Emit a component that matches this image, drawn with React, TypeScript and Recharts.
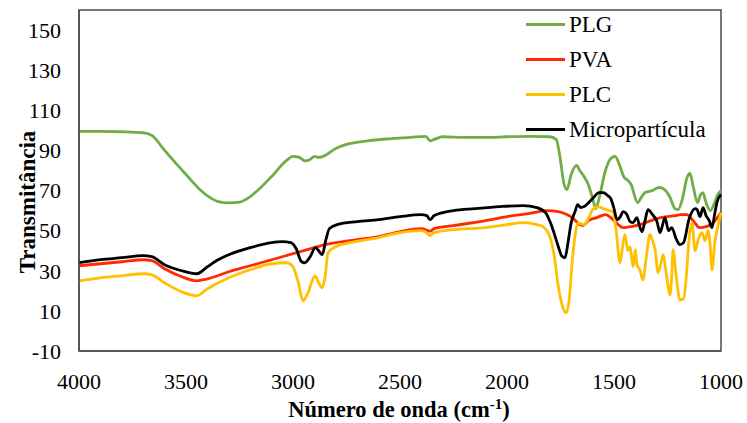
import { LineChart, Line, XAxis, YAxis, ReferenceArea } from "recharts"

// wavenumbers (cm-1) and transmittance for each spectrum
const plgWave = [4000, 3900, 3800, 3700, 3660, 3600, 3500, 3420, 3350, 3300, 3250, 3200, 3100, 3030, 3000, 2970, 2945, 2920, 2900, 2880, 2860, 2800, 2750, 2650, 2550, 2450, 2380, 2360, 2340, 2300, 2200, 2100, 2000, 1900, 1800, 1770, 1750, 1735, 1720, 1700, 1675, 1660, 1640, 1620, 1600, 1585, 1570, 1540, 1515, 1495, 1475, 1455, 1435, 1420, 1390, 1370, 1355, 1320, 1290, 1271, 1240, 1215, 1200, 1180, 1160, 1145, 1130, 1110, 1095, 1085, 1070, 1050, 1030, 1015, 1000]
const plgT = [99.5, 99.5, 99.3, 98.8, 97.5, 90, 78, 69, 64.5, 63.8, 64.2, 67, 77, 85, 87, 86.5, 84.8, 85.5, 87, 86.5, 87, 91, 93, 94.8, 95.8, 96.5, 97, 94.8, 95.5, 96.8, 96.5, 96.5, 96.8, 97, 96.8, 95.5, 85, 74, 70.5, 78, 82.5, 80, 77, 73, 66, 61, 66, 80, 86, 87, 83, 77, 75, 73, 64, 67, 69, 70, 71.5, 71, 67, 61, 60.5, 66, 76, 78.5, 72, 64, 68, 69, 64, 60, 64, 68, 70]

const pvaWave = [4000, 3900, 3800, 3700, 3660, 3600, 3520, 3450, 3400, 3300, 3200, 3100, 3000, 2950, 2900, 2850, 2800, 2700, 2600, 2500, 2400, 2360, 2340, 2250, 2100, 2000, 1900, 1813, 1760, 1720, 1690, 1660, 1645, 1620, 1580, 1540, 1510, 1480, 1458, 1420, 1380, 1340, 1300, 1250, 1210, 1190, 1160, 1130, 1100, 1070, 1040, 1020, 1000]
const pvaT = [32.5, 33.5, 34.5, 35.5, 35, 31, 27, 25, 26, 29.5, 32.5, 35.5, 38.5, 40, 41.5, 43, 44, 45.5, 47, 49.5, 51, 49.8, 51, 52.5, 55, 57, 58.5, 60, 59.5, 58, 56, 53, 52.5, 55, 56.5, 58, 56, 53, 51.5, 52, 53, 54.5, 56, 57, 57.5, 58, 58, 55, 51.5, 52, 53.5, 56, 59]

const plcWave = [4000, 3900, 3800, 3700, 3660, 3600, 3520, 3450, 3400, 3300, 3200, 3100, 3030, 3000, 2975, 2953, 2930, 2897, 2880, 2864, 2850, 2836, 2800, 2734, 2600, 2500, 2400, 2370, 2360, 2340, 2250, 2100, 2000, 1925, 1860, 1832, 1800, 1780, 1760, 1740, 1724, 1710, 1695, 1680, 1668, 1655, 1640, 1620, 1600, 1575, 1540, 1505, 1490, 1472, 1460, 1449, 1435, 1425, 1411, 1400, 1393, 1379, 1365, 1350, 1332, 1320, 1308, 1294, 1280, 1271, 1255, 1238, 1230, 1224, 1210, 1192, 1175, 1160, 1150, 1136, 1121, 1105, 1089, 1075, 1061, 1050, 1042, 1028, 1015, 1000]
const plcT = [25, 26.5, 27.5, 28.5, 28, 24, 19.5, 17.5, 21, 26.5, 30.5, 33.5, 34, 32, 24, 15, 19, 27.5, 24, 21.5, 27, 39, 42, 44, 46.5, 49, 50, 48.5, 47.5, 49, 50.5, 51.5, 53, 54, 53, 52, 47, 38, 22, 12, 9, 15, 35, 49, 54, 53.5, 53, 56, 60.5, 62, 60.5, 59.5, 50, 34, 42, 48, 40, 42, 32, 40.5, 33, 30.5, 25.5, 36, 48, 45, 40.5, 29, 34, 38, 28, 18, 28, 40.5, 28, 15.5, 16, 30, 45, 54, 40, 46, 49, 45, 50, 42, 30.5, 45, 52, 59]

const microWave = [4000, 3900, 3800, 3700, 3660, 3600, 3520, 3450, 3400, 3350, 3300, 3200, 3100, 3050, 3010, 2985, 2960, 2945, 2920, 2895, 2880, 2864, 2845, 2830, 2794, 2700, 2600, 2500, 2400, 2375, 2360, 2340, 2250, 2150, 2033, 1925, 1860, 1820, 1790, 1760, 1745, 1729, 1715, 1700, 1682, 1670, 1655, 1640, 1600, 1570, 1550, 1530, 1515, 1500, 1486, 1470, 1458, 1440, 1425, 1411, 1393, 1380, 1369, 1355, 1341, 1320, 1299, 1285, 1275, 1262, 1245, 1230, 1210, 1192, 1175, 1150, 1121, 1112, 1098, 1084, 1070, 1055, 1042, 1030, 1019, 1000]
const microT = [34, 35.5, 36.5, 37.5, 37, 33, 30, 28.5, 32, 35.5, 38, 41.5, 44, 44.5, 44, 41, 34.5, 34, 37, 41.5, 40, 38, 46, 51, 53, 54.5, 55.5, 57, 58, 57.5, 55.5, 57.5, 60, 61, 62, 62.5, 61.5, 59, 52, 42, 37.5, 36.5, 44, 54, 59.5, 63, 61.5, 62, 66, 69, 69, 67.5, 66, 61, 55.5, 57, 59.5, 58, 54.5, 54, 56.5, 52, 49.5, 55, 60.5, 58, 54.5, 49, 52, 56.5, 50, 51.5, 46, 43, 44, 55.5, 61, 60.5, 57, 61.5, 57.5, 55, 51.5, 58, 64, 68]

const xTicks = [1000, 1500, 2000, 2500, 3000, 3500, 4000]
const yTicks = [-10, 10, 30, 50, 70, 90, 110, 130, 150]

const toRows = (wave: number[], t: number[]) => wave.map((w, i) => ({ w, t: t[i] }))

const series = [
  { name: "PLG", color: "#70ad47", data: toRows(plgWave, plgT) },
  { name: "PVA", color: "#ff2a00", data: toRows(pvaWave, pvaT) },
  { name: "PLC", color: "#ffc000", data: toRows(plcWave, plcT) },
  { name: "Micropartícula", color: "#000000", data: toRows(microWave, microT) },
]

const font = "'Liberation Serif', 'Times New Roman', serif"
const axisColor = "#4d4d4d"

function LegendBox() {
  return (
    <div style={{ position: "absolute", left: 526, top: 7, fontFamily: font, fontSize: 23, color: "#000" }}>
      {series.map((s) => (
        <div key={s.name} style={{ display: "flex", alignItems: "center", height: 35 }}>
          <span style={{ display: "inline-block", width: 39, height: 3, background: s.color, marginRight: 4 }} />
          <span>{s.name}</span>
        </div>
      ))}
    </div>
  )
}

export default function App() {
  return (
    <div style={{ position: "absolute", left: 0, top: 0, width: 747, height: 423, background: "#fff" }}>
      <LineChart width={747} height={423} margin={{ top: 10, right: 26, left: 0, bottom: 0 }}>
        <XAxis
          type="number"
          dataKey="w"
          domain={[1000, 4000]}
          reversed
          ticks={xTicks}
          interval={0}
          height={72}
          tickSize={0}
          tickMargin={22}
          tickLine={false}
          axisLine={{ stroke: axisColor, strokeWidth: 1.5 }}
          tick={{ fill: "#000", fontSize: 22, fontFamily: font }}
          label={{
            value: "Número de onda (cm-1)",
            content: () => (
              <text x={399} y={417} textAnchor="middle" fontFamily={font} fontSize={22.5} fontWeight="bold" fill="#000">
                Número de onda (cm
                <tspan fontSize={15} dy={-8}>-1</tspan>
                <tspan dy={8}>)</tspan>
              </text>
            ),
          }}
        />
        <YAxis
          type="number"
          domain={[-10, 160]}
          ticks={yTicks}
          interval={0}
          width={79}
          tickSize={0}
          tickMargin={18}
          tickLine={false}
          axisLine={{ stroke: axisColor, strokeWidth: 1.5 }}
          tick={{ fill: "#000", fontSize: 22, fontFamily: font }}
          label={{
            value: "Transmitância",
            content: () => (
              <text
                x={27}
                y={202}
                transform="rotate(-90 27 202)"
                textAnchor="middle"
                dominantBaseline="central"
                fontFamily={font}
                fontSize={23}
                fontWeight="bold"
                fill="#000"
              >
                Transmitância
              </text>
            ),
          }}
        />
        <ReferenceArea
          x1={4000}
          x2={1000}
          y1={-10}
          y2={160}
          fill="none"
          stroke={axisColor}
          strokeWidth={1.5}
          ifOverflow="visible"
        />
        {series.map((s) => (
          <Line
            key={s.name}
            data={s.data}
            dataKey="t"
            name={s.name}
            type="monotone"
            stroke={s.color}
            strokeWidth={2.8}
            dot={false}
            isAnimationActive={false}
          />
        ))}
      </LineChart>
      <LegendBox />
    </div>
  )
}
